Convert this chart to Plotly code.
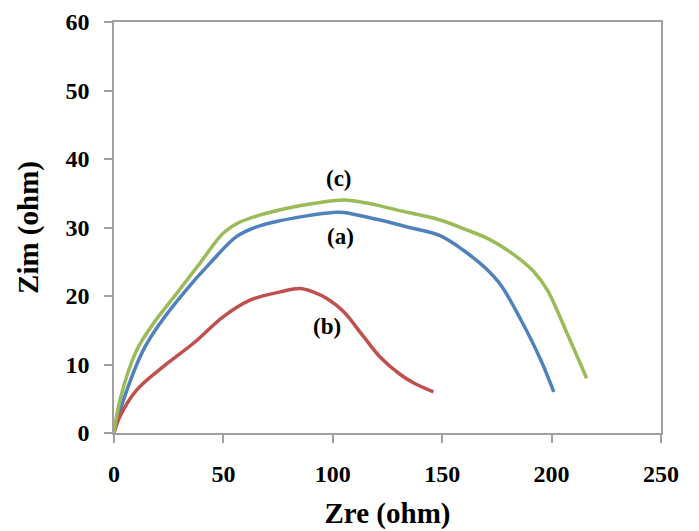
import plotly.graph_objects as go

# Series (a) - blue
a_x = [0, 4.3, 13.4, 21, 31.7, 43.9, 56.1, 65.2, 76, 88, 100, 105, 120, 135, 149, 160, 170, 177, 186, 195, 201]
a_y = [0, 4.8, 12.1, 16, 20.4, 24.8, 28.7, 30.1, 31.0, 31.7, 32.2, 32.2, 31.2, 30, 28.8, 26.6, 24, 21.5, 16.5, 10.7, 6]

# Series (b) - red
b_x = [0, 2.7, 10.4, 22.5, 36.3, 50, 62.2, 76, 85, 91, 98, 105, 114, 121.6, 131, 137, 146]
b_y = [0, 2.4, 6.3, 9.7, 13.1, 17, 19.4, 20.6, 21.1, 20.6, 19.5, 17.7, 14.1, 11.1, 8.5, 7.3, 6]

# Series (c) - green
c_x = [0, 2.7, 10.4, 18, 28.7, 39.3, 50, 57.6, 76, 95, 105, 115, 130, 149, 160, 172, 185, 192, 198, 207, 216]
c_y = [0, 4.8, 12.1, 16, 20.4, 24.8, 29.2, 30.8, 32.6, 33.7, 34, 33.6, 32.5, 31.1, 29.8, 28.2, 25.5, 23.5, 20.9, 14.6, 8]

labels = ["(a)", "(b)", "(c)"]
label_x = [103.3, 97.3, 102.9]
label_y = [28.7, 15.5, 37.2]

x_ticks = [0, 50, 100, 150, 200, 250]
y_ticks = [0, 10, 20, 30, 40, 50, 60]

font_family = "Liberation Serif, Times New Roman, serif"

fig = go.Figure()
for xs, ys, col in [(a_x, a_y, "#4F81BD"), (b_x, b_y, "#C0504D"), (c_x, c_y, "#9BBB59")]:
    fig.add_trace(go.Scatter(x=xs, y=ys, mode="lines",
                             line=dict(color=col, width=3.5, shape="spline", smoothing=1.0),
                             showlegend=False))

for t, lx, ly in zip(labels, label_x, label_y):
    fig.add_annotation(x=lx, y=ly, text="<b>%s</b>" % t, showarrow=False,
                       font=dict(family=font_family, size=23, color="black"))

axis_common = dict(showgrid=False, zeroline=False, showline=True, linecolor="#A0A0A0",
                   linewidth=1.5, mirror=True, ticks="outside", ticklen=8, tickcolor="#A0A0A0",
                   tickwidth=1.5, automargin=False,
                   tickfont=dict(family=font_family, size=24, color="black"))

fig.update_xaxes(range=[0, 250], tickvals=x_ticks, ticktext=["<b>%d</b>" % v for v in x_ticks],
                 ticklabelstandoff=10,
                 title=dict(text="<b>Zre (ohm)</b>", font=dict(family=font_family, size=29, color="black"),
                            standoff=17),
                 **axis_common)
fig.update_yaxes(range=[0, 60], tickvals=y_ticks, ticktext=["<b>%d</b>" % v for v in y_ticks],
                 ticklabelstandoff=10,
                 title=dict(text="<b>Zim (ohm)</b>", font=dict(family=font_family, size=29, color="black"),
                            standoff=18),
                 **axis_common)

fig.update_layout(width=691, height=523, margin=dict(l=106, r=38, t=14, b=98),
                  plot_bgcolor="white", paper_bgcolor="white")

fig.write_html("out.html")
